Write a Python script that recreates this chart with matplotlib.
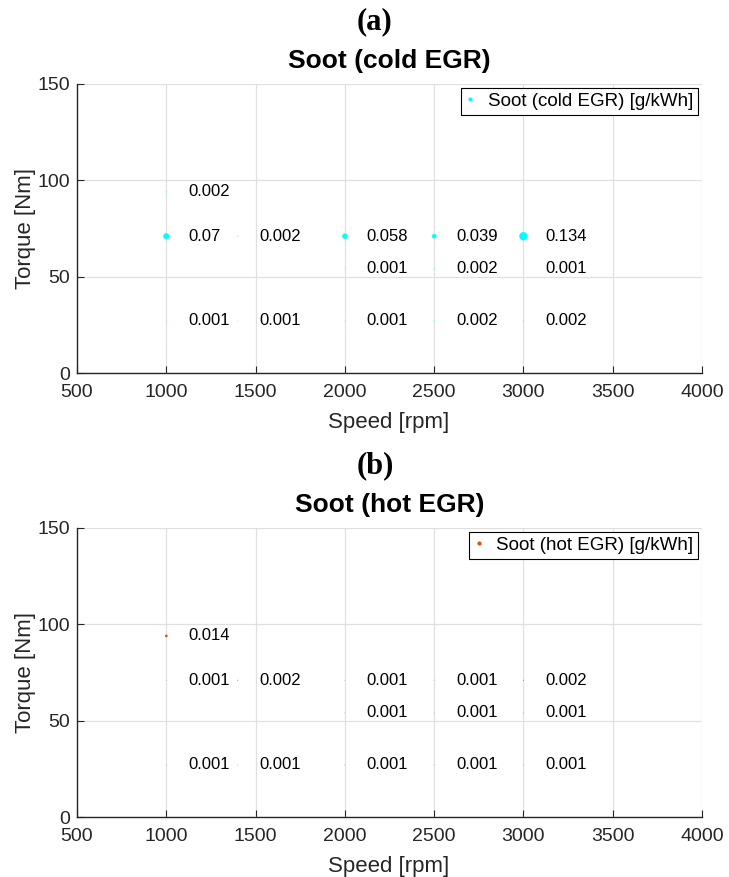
import matplotlib
matplotlib.use("Agg")
import matplotlib.pyplot as plt
from matplotlib.lines import Line2D

# Operating points
speed = [1000, 1000, 1000, 1400, 1400, 2000, 2000, 2000, 2500, 2500, 2500, 3000, 3000, 3000]
torque = [94, 71, 27, 71, 27, 71, 54, 27, 71, 54, 27, 71, 54, 27]

# Soot emissions [g/kWh]
soot_cold = [0.002, 0.07, 0.001, 0.002, 0.001, 0.058, 0.001, 0.001, 0.039, 0.002, 0.002, 0.134, 0.001, 0.002]
soot_hot = [0.014, 0.001, 0.001, 0.002, 0.001, 0.001, 0.001, 0.001, 0.001, 0.001, 0.001, 0.002, 0.001, 0.001]

xticks = [500, 1000, 1500, 2000, 2500, 3000, 3500, 4000]
yticks = [0, 50, 100, 150]

W, H = 729, 877
fig = plt.figure(figsize=(W / 100, H / 100), dpi=100)

SANS = ["Liberation Sans", "DejaVu Sans"]
SERIF = ["Liberation Serif", "DejaVu Serif"]
DARK = "#262626"
GRID = "#e0e0e0"


def panel(top_px, values, color, title, legend_label, tag):
    left, right, bottom = 77, 702, top_px + 289
    ax = fig.add_axes([left / W, 1 - bottom / H, (right - left) / W, 289 / H])
    ax.scatter(speed, torque, s=[v * 270 for v in values], color=color,
               edgecolors="none", zorder=3)
    for x, y, v in zip(speed, torque, values):
        ax.text(x + 123, y, f"{v:g}", ha="left", va="center",
                fontsize=12, family=SANS, color="black", zorder=4)
    ax.set_xlim(500, 4000)
    ax.set_ylim(0, 150)
    ax.set_xticks(xticks)
    ax.set_yticks(yticks)
    ax.grid(True, color=GRID, linewidth=0.9, zorder=0)
    ax.set_axisbelow(True)
    for s in ("top", "right"):
        ax.spines[s].set_visible(False)
    for s in ("left", "bottom"):
        ax.spines[s].set_color(DARK)
        ax.spines[s].set_linewidth(1.0)
    ax.tick_params(direction="in", length=5, width=0.8, colors=DARK,
                   labelsize=14)
    ax.tick_params(axis="x", pad=8)
    ax.tick_params(axis="y", pad=5)
    for lab in ax.get_xticklabels() + ax.get_yticklabels():
        lab.set_family(SANS)
    ax.set_xlabel("Speed [rpm]", fontsize=16, family=SANS, color=DARK)
    ax.set_ylabel("Torque [Nm]", fontsize=16, family=SANS, color=DARK)
    ax.xaxis.set_label_coords(0.498, -0.172)
    ax.xaxis.label.set_va("center")
    ax.yaxis.set_label_coords(-0.083, 0.5)
    ax.yaxis.label.set_va("center")

    handle = Line2D([], [], linestyle="none", marker="o", markersize=3,
                    markerfacecolor=color, markeredgecolor="none")
    leg = ax.legend([handle], [legend_label], loc="upper right",
                    bbox_to_anchor=(0.994, 0.986), fancybox=False,
                    framealpha=1, edgecolor="black", borderpad=0.25,
                    handlelength=0.5, handletextpad=0.7, borderaxespad=0,
                    prop={"family": SANS, "size": 13.5})
    leg.get_frame().set_linewidth(0.8)

    fig.text((left + right) / 2 / W, 1 - (top_px - 23) / H, title,
             ha="center", va="center", fontsize=19, fontweight="bold",
             family=SANS, color="black")
    fig.text(375 / W, 1 - (top_px - 62) / H, tag, ha="center", va="center",
             fontsize=22, fontweight="bold", family=SERIF, color="black")
    return ax


panel(84, soot_cold, "#00ffff", "Soot (cold EGR)", "Soot (cold EGR) [g/kWh]", "(a)")
panel(528, soot_hot, "#d95319", "Soot (hot EGR)", "Soot (hot EGR) [g/kWh]", "(b)")

fig.savefig("out.png", dpi=100, facecolor="white")
